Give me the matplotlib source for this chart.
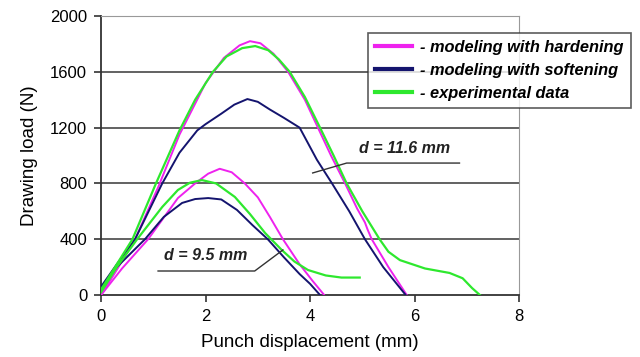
import numpy as np
import matplotlib.pyplot as plt

plt.rcParams['font.family'] = ['Liberation Sans', 'DejaVu Sans']

# d = 11.6 mm
x_hard_big = [0, 0.3, 0.65, 1.1, 1.5, 2.0, 2.35, 2.65, 2.85, 3.05, 3.3, 3.58, 3.9, 4.15, 4.4, 4.67, 4.9, 5.05, 5.1, 5.18, 5.5, 5.85]
y_hard_big = [0, 180, 400, 780, 1150, 1520, 1700, 1790, 1820, 1805, 1730, 1600, 1400, 1200, 1000, 800, 620, 520, 470, 400, 200, 0]
x_soft_big = [0, 0.3, 0.65, 1.17, 1.5, 1.84, 2.0, 2.3, 2.55, 2.8, 3.0, 3.23, 3.5, 3.8, 4.13, 4.42, 4.75, 5.05, 5.4, 5.83]
y_soft_big = [60, 220, 400, 800, 1020, 1180, 1225, 1300, 1365, 1405, 1385, 1330, 1270, 1200, 970, 800, 600, 400, 200, 0]
x_exp_big = [0, 0.3, 0.6, 1.05, 1.5, 1.8, 2.14, 2.4, 2.7, 2.95, 3.2, 3.4, 3.61, 3.9, 4.19, 4.45, 4.7, 5.0, 5.33, 5.5, 5.72, 6.2, 6.67, 6.92, 7.1, 7.25]
y_exp_big = [40, 220, 400, 800, 1180, 1400, 1600, 1710, 1770, 1785, 1755, 1690, 1600, 1420, 1200, 1000, 800, 600, 400, 310, 250, 190, 158, 120, 50, 0]

# d = 9.5 mm
x_hard_small = [0, 0.4, 0.9, 1.47, 1.8, 2.05, 2.27, 2.5, 2.75, 3.0, 3.23, 3.48, 3.8, 4.05, 4.27]
y_hard_small = [0, 190, 400, 695, 800, 870, 905, 880, 800, 700, 560, 400, 220, 100, 0]
x_soft_small = [0, 0.3, 0.84, 1.2, 1.55, 1.8, 2.05, 2.3, 2.6, 2.9, 3.19, 3.5, 3.8, 4.0, 4.19]
y_soft_small = [50, 200, 400, 560, 660, 688, 695, 685, 610, 500, 400, 270, 150, 80, 0]
x_exp_small = [0, 0.3, 0.69, 1.17, 1.47, 1.7, 1.93, 2.2, 2.56, 2.85, 3.14, 3.46, 3.7, 3.96, 4.3, 4.6, 4.95]
y_exp_small = [20, 200, 400, 631, 753, 805, 824, 800, 703, 580, 444, 322, 240, 179, 140, 125, 125]

c_hard = '#ee22ee'
c_soft = '#14146e'
c_exp = '#2ee82e'

fig = plt.figure(figsize=(6.4, 3.57), dpi=100)
ax = fig.add_axes([0.158, 0.1737, 0.653, 0.7813])

for y in [400, 800, 1200, 1600, 2000]:
    ax.axhline(y, color='#555555', lw=1.3, zorder=1)

ax.plot(x_hard_big, y_hard_big, color=c_hard, lw=1.4, label='- modeling with hardening', zorder=3)
ax.plot(x_soft_big, y_soft_big, color=c_soft, lw=1.4, label='- modeling with softening', zorder=3)
ax.plot(x_exp_big, y_exp_big, color=c_exp, lw=1.6, label='- experimental data', zorder=4)
ax.plot(x_hard_small, y_hard_small, color=c_hard, lw=1.4, zorder=3)
ax.plot(x_soft_small, y_soft_small, color=c_soft, lw=1.4, zorder=3)
ax.plot(x_exp_small, y_exp_small, color=c_exp, lw=1.6, zorder=4)

ax.set_xlim(0, 8)
ax.set_ylim(0, 2000)
ax.set_xticks([0, 2, 4, 6, 8])
ax.set_yticks([0, 400, 800, 1200, 1600, 2000])
ax.tick_params(direction='out', length=5, width=1.2, color='#333333', labelsize=12, pad=5)
ax.spines['left'].set_color('#333333')
ax.spines['bottom'].set_color('#333333')
ax.spines['left'].set_linewidth(1.3)
ax.spines['bottom'].set_linewidth(1.3)
ax.spines['top'].set_color('#999999')
ax.spines['right'].set_color('#999999')
ax.set_xlabel('Punch displacement (mm)', fontsize=13.5, labelpad=7)
ax.set_ylabel('Drawing load (N)', fontsize=13.5, labelpad=9)

# annotations
tstyle = dict(fontsize=11.5, fontweight='bold', fontstyle='italic', color='#222222')
ax.text(5.8, 1000, 'd = 11.6 mm', ha='center', va='bottom', **tstyle)
ax.plot([6.86, 4.7, 4.05], [946, 946, 875], color='#333333', lw=1, zorder=5)
ax.text(2.0, 230, 'd = 9.5 mm', ha='center', va='bottom', **tstyle)
ax.plot([1.09, 2.94, 3.48], [172, 172, 323], color='#333333', lw=1, zorder=5)

leg = ax.legend(loc='upper left', bbox_to_anchor=(368 / 640, 1 - 33 / 357),
                bbox_transform=fig.transFigure, frameon=True, fancybox=False,
                edgecolor='#333333', handlelength=2.3, handletextpad=0.5,
                borderpad=0.4, labelspacing=0.5, borderaxespad=0,
                prop=dict(size=11.8, weight='bold', style='italic'))
leg.get_frame().set_linewidth(1.2)
for h in leg.legend_handles:
    h.set_linewidth(3)

fig.savefig('out.png', dpi=100)
